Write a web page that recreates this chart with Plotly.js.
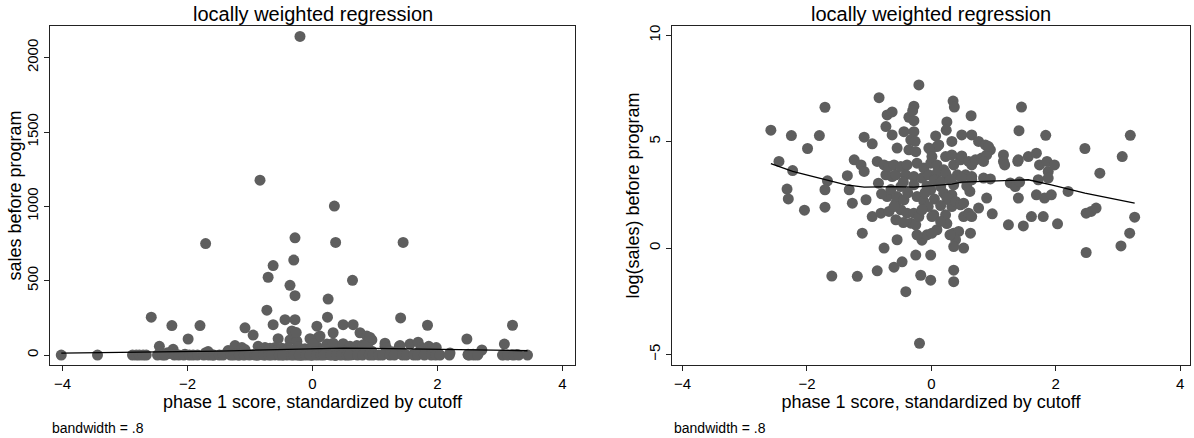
<!DOCTYPE html>
<html><head><meta charset="utf-8">
<script src="https://cdn.plot.ly/plotly-3.0.1.min.js"></script>
<style>html,body{margin:0;padding:0;background:#fff}#chart{width:1194px;height:438px}</style>
</head><body><div id="chart"></div>
<script>
// phase 1 score (standardized by cutoff) for firms with positive sales
const score = [
-2.58,-2.45,-2.25,-2.23,-2.32,-2.30,-1.99,-2.04,-1.80,-1.71,-1.67,-1.71,-1.71,-1.60,-1.35,-1.32,-1.24,-1.13,-1.08,-1.27,
-1.19,-1.11,-1.08,-1.05,-0.95,-0.95,-0.87,-0.87,-0.84,-0.76,-0.81,-0.73,-0.71,-0.63,-0.63,-0.76,-0.73,-0.71,-0.68,-0.60,
-0.68,-0.60,-0.55,-0.55,-0.57,-0.57,-0.63,-0.57,-0.44,-0.47,-0.41,-0.36,-0.28,-0.30,-0.28,-0.28,-0.33,-0.36,-0.25,-0.01,
0.09,-0.25,-0.20,-0.17,-0.15,-0.07,-0.23,-0.01,-0.01,0.04,0.09,0.07,0.12,0.25,0.24,0.33,0.35,0.37,0.36,0.36,
0.36,0.44,0.39,0.52,0.49,0.64,0.65,0.63,0.62,0.52,0.76,0.87,0.95,0.89,0.76,0.98,1.24,1.45,1.41,1.39,
1.40,1.48,1.61,1.56,1.69,1.74,1.72,1.84,1.80,1.86,1.88,1.88,1.82,1.93,1.98,2.03,2.20,2.47,2.49,2.49,
2.57,2.65,2.71,3.07,3.05,3.19,3.20,3.27,-0.19,
-0.49,-0.39,-0.23,-0.12,-0.01,0.09,0.20,0.36,0.47,0.55,-0.41,-0.28,-0.15,-0.04,0.09,0.25,0.42,
-0.49,-0.28,-0.07,0.15,0.36,0.57,0.23,0.33,0.49,-0.26,
-0.55,-0.44,-0.49,-0.39,-0.23,-0.12,-0.28,-0.33,-0.25,-0.01,0.20,0.28,0.33,0.23,
-0.04,0.01,0.60,0.65,0.71,0.81,0.89,0.23,0.49,0.65,0.84,0.95,
1.16,1.16,1.40,1.27,1.35,1.42,1.69,0.33,0.25,0.39,0.47,0.60,0.65,-0.20,0.01,0.01,0.30,0.36,
0.92,0.84,1.18,0.65,0.52,
-0.85,-0.80,-0.65,-0.45,-0.38,-0.10,0.05,0.15,0.30,0.05,-0.05,0.15,-0.15,-0.60,-0.45,0.25,0.15
];
// log(sales) before program, same firms, same order
const logSales = [
5.54,4.07,5.29,3.64,2.77,2.31,4.68,1.78,5.29,6.62,3.16,2.74,1.92,-1.32,3.40,2.74,4.15,3.91,3.60,2.11,
-1.33,0.70,5.21,2.27,4.90,1.48,4.07,-1.07,7.07,0.00,1.64,5.71,6.26,6.40,5.32,3.91,3.44,2.42,1.72,-0.90,
3.83,3.91,4.70,0.39,2.11,1.33,3.36,3.44,5.47,-0.65,-2.05,6.15,6.67,6.46,5.99,5.47,5.09,4.62,4.53,4.62,
4.77,-0.33,7.67,-1.28,0.37,0.62,0.62,-0.33,-1.51,1.56,0.86,5.27,4.85,5.93,5.54,5.01,6.91,6.63,-1.04,-1.58,
0.70,0.78,0.39,0.00,5.32,6.22,5.32,0.70,2.66,1.48,5.01,4.85,4.62,2.35,1.88,1.61,1.09,6.63,5.52,4.08,
2.35,1.04,1.48,4.30,4.46,3.91,3.21,5.30,1.48,4.07,3.60,3.29,2.35,2.50,3.91,1.14,2.66,4.68,-0.21,1.64,
1.72,1.88,3.52,4.30,0.10,0.70,5.30,1.45,-4.48,
3.83,3.91,3.99,3.76,3.99,3.91,3.68,3.91,4.15,3.44,3.44,3.36,3.29,3.44,3.52,3.36,3.44,
2.89,2.97,2.92,2.89,2.97,2.92,4.30,4.38,4.33,5.02,
2.42,2.27,1.80,1.64,2.42,2.19,1.64,1.17,1.09,2.74,2.58,2.27,1.95,1.56,
4.70,4.30,4.07,3.91,4.15,4.23,4.38,3.52,3.29,3.36,3.29,3.25,
4.38,4.07,4.15,3.06,2.89,3.10,2.50,2.50,2.35,2.19,2.03,1.64,1.48,1.48,1.48,0.70,0.62,0.07,
4.77,4.07,3.91,3.21,2.11,
3.05,2.55,2.75,3.10,2.60,2.60,3.20,3.10,3.20,2.30,1.95,2.00,1.80,1.95,1.20,1.15,1.25
];
// firms with zero sales before program (left panel only)
const zeroSalesScore = [
-4.02,-3.44,-2.88,-2.82,-2.77,-2.71,-2.66,-2.48,-2.40,-2.36,-2.21,-2.14,-2.06,-1.97,-1.91,-1.84,-1.74,-1.66,
-1.58,-1.49,-1.43,-1.31,-1.26,-1.17,-1.09,-1.01,-0.92,-0.89,-0.78,-0.70,-0.66,-0.53,-0.48,-0.34,-0.30,-0.21,
-0.11,-0.04,0.06,0.13,0.18,0.29,0.38,0.46,0.55,0.59,0.72,0.80,0.91,0.97,1.06,1.12,1.24,1.31,1.44,1.50,
1.62,1.68,1.79,1.90,1.97,2.04,2.19,2.51,2.58,2.64,3.04,3.12,3.22,3.30,3.44
];
// lowess smooth
const lowessLeftX = [-4.02,-3.44,-2.88,-2.5,-2.0,-1.5,-1.0,-0.5,0.0,0.5,1.0,1.5,2.0,2.5,3.0,3.44];
const lowessLeftY = [13,15,17,19,22,26,32,38,43,47,45,42,38,36,33,29];
const lowessRightX = [-2.58,-2.23,-1.69,-1.37,-1.08,-0.57,-0.28,-0.04,0.33,0.49,1.13,1.56,1.93,2.47,3.27];
const lowessRightY = [3.97,3.60,3.21,2.97,2.86,2.89,2.86,2.92,3.00,3.10,3.17,3.21,2.97,2.58,2.11];

const panelTitle = "locally weighted regression";
const xTitle = "phase 1 score, standardized by cutoff";
const yTitleLeft = "sales before program";
const yTitleRight = "log(sales) before program";
const noteText = "bandwidth = .8";
const xTicks = [-4,-2,0,2,4];
const yTicksLeft = [0,500,1000,1500,2000];
const yTicksRight = [-5,0,5,10];

// sales = exp(log(sales)); zero-sales firms sit at 0
const sales = logSales.map(v => Math.exp(v));
const leftX = score.concat(zeroSalesScore);
const leftY = sales.concat(zeroSalesScore.map(() => 0));

const FONT = "Liberation Sans, Arial, Helvetica, sans-serif";
const markerColor = "#5e5e5e";

const traces = [
  {type:"scatter", mode:"markers", x:leftX, y:leftY, xaxis:"x", yaxis:"y",
   marker:{color:markerColor, size:11, line:{width:0}}, hoverinfo:"skip"},
  {type:"scatter", mode:"lines", x:lowessLeftX, y:lowessLeftY, xaxis:"x", yaxis:"y",
   line:{color:"#000", width:1.3}, hoverinfo:"skip"},
  {type:"scatter", mode:"markers", x:score, y:logSales, xaxis:"x2", yaxis:"y2",
   marker:{color:markerColor, size:11, line:{width:0}}, hoverinfo:"skip"},
  {type:"scatter", mode:"lines", x:lowessRightX, y:lowessRightY, xaxis:"x2", yaxis:"y2",
   line:{color:"#000", width:1.3}, hoverinfo:"skip"}
];

const axCommon = {
  showline:true, mirror:true, linecolor:"#222", linewidth:1,
  ticks:"outside", ticklen:5, tickcolor:"#222", tickwidth:1,
  showgrid:false, zeroline:false,
  tickfont:{family:FONT, size:15, color:"#000"}
};

const W = 1194, L = 50, R = 4;
const plotW = W - L - R;
const leftDom = [0, (575 - L) / plotW];
const rightDom = [(672 - L) / plotW, 1];
const px = p => (p - L) / plotW;

const layout = {
  width:1194, height:438,
  margin:{l:L, r:R, t:26, b:73},
  paper_bgcolor:"#fff", plot_bgcolor:"#fff",
  showlegend:false,
  font:{family:FONT, color:"#000"},
  xaxis:Object.assign({}, axCommon, {domain:leftDom, anchor:"y", range:[-4.2,4.2], tickvals:xTicks,
    title:{text:xTitle, font:{family:FONT, size:18}, standoff:3}}),
  yaxis:Object.assign({}, axCommon, {domain:[0,1], anchor:"x", range:[-67,2213], tickvals:yTicksLeft, tickangle:-90,
    title:{text:""}}),
  xaxis2:Object.assign({}, axCommon, {domain:rightDom, anchor:"y2", range:[-4.17,4.16], tickvals:xTicks,
    title:{text:xTitle, font:{family:FONT, size:18}, standoff:3}}),
  yaxis2:Object.assign({}, axCommon, {domain:[0,1], anchor:"x2", range:[-5.5,10.44], tickvals:yTicksRight, tickangle:-90,
    title:{text:""}}),
  annotations:[
    {text:panelTitle, xref:"paper", yref:"paper", x:(leftDom[0]+leftDom[1])/2, y:1, yanchor:"bottom", xanchor:"center",
     yshift:-1, showarrow:false, font:{family:FONT, size:20}},
    {text:panelTitle, xref:"paper", yref:"paper", x:(rightDom[0]+rightDom[1])/2, y:1, yanchor:"bottom", xanchor:"center",
     yshift:-1, showarrow:false, font:{family:FONT, size:20}},
    {text:yTitleLeft, xref:"paper", yref:"paper", x:px(14), y:0.5, xanchor:"center", yanchor:"middle",
     textangle:-90, showarrow:false, font:{family:FONT, size:18}},
    {text:yTitleRight, xref:"paper", yref:"paper", x:px(632), y:0.5, xanchor:"center", yanchor:"middle",
     textangle:-90, showarrow:false, font:{family:FONT, size:18}},
    {text:noteText, xref:"paper", yref:"paper", x:leftDom[0], y:0, yanchor:"top", xanchor:"left",
     yshift:-53, showarrow:false, font:{family:FONT, size:14}},
    {text:noteText, xref:"paper", yref:"paper", x:rightDom[0], y:0, yanchor:"top", xanchor:"left",
     yshift:-53, showarrow:false, font:{family:FONT, size:14}}
  ]
};

Plotly.newPlot("chart", traces, layout, {staticPlot:true, displayModeBar:false});
</script>
</body></html>
